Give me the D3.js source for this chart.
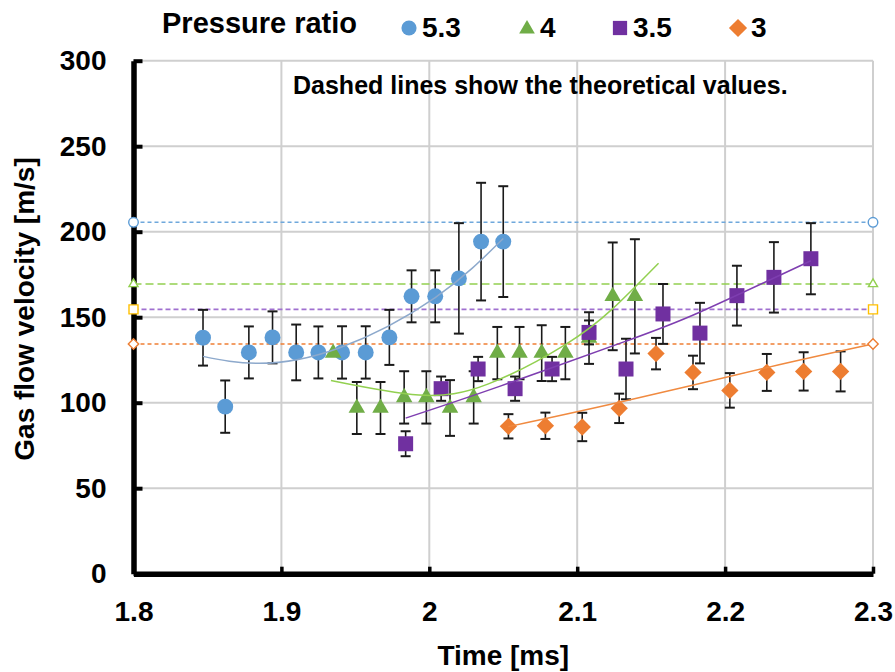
<!DOCTYPE html>
<html>
<head>
<meta charset="utf-8">
<script src="https://cdn.jsdelivr.net/npm/d3@7"></script>
<style>
  html, body { margin: 0; padding: 0; background: #fff; }
  svg { display: block; font-family: "Liberation Sans", Arial, sans-serif; }
</style>
</head>
<body>
<svg id="chart" width="895" height="672"></svg>
<script>
// Axis ticks
const xTicks = [1.8, 1.9, 2.0, 2.1, 2.2, 2.3];
const yTicks = [0, 50, 100, 150, 200, 250, 300];

// Pressure ratio 5.3
const time53 = [1.847, 1.862, 1.878, 1.894, 1.910, 1.925, 1.941, 1.957, 1.973, 1.988, 2.004, 2.020, 2.035, 2.050];
const vel53  = [138.0, 97.7, 129.4, 138.2, 129.4, 129.4, 129.4, 129.4, 138.2, 162.2, 162.2, 172.7, 194.2, 194.2];
const err53  = [16.3, 15.3, 15.2, 15.2, 16.3, 15.2, 15.3, 15.3, 16.1, 15.2, 15.2, 32.3, 34.4, 32.4];

// Pressure ratio 4
const time4 = [1.935, 1.951, 1.967, 1.983, 1.998, 2.014, 2.030, 2.046, 2.061, 2.076, 2.092, 2.108, 2.124, 2.139];
const vel4  = [129.0, 96.9, 96.9, 103.1, 103.1, 96.9, 103.1, 129.0, 129.0, 129.0, 129.0, 137.8, 162.2, 162.2];
const err4  = [0, 15.2, 15.2, 15.3, 15.3, 16.3, 15.3, 15.3, 15.3, 16.3, 15.3, 15.1, 31.5, 33.4];

// Pressure ratio 3.5
const time35 = [1.984, 2.008, 2.033, 2.058, 2.083, 2.108, 2.133, 2.158, 2.183, 2.208, 2.233, 2.258];
const vel35  = [76.0, 108.2, 119.7, 108.2, 119.7, 141.1, 119.7, 151.9, 140.7, 162.6, 173.3, 184.2];
const err35  = [7.3, 7.1, 7.1, 7.1, 7.1, 7.0, 17.7, 17.5, 17.7, 17.5, 20.6, 20.8];

// Pressure ratio 3
const time3 = [2.0535, 2.0785, 2.1034, 2.1284, 2.1533, 2.1783, 2.2032, 2.2282, 2.2531, 2.2781];
const vel3  = [86.2, 86.5, 85.8, 96.7, 128.7, 117.7, 107.2, 117.7, 118.3, 118.3];
const err3  = [7.1, 7.7, 8.3, 8.6, 9.2, 9.8, 10.1, 10.8, 11.2, 11.7];

// Trend curves (time, velocity)
const trendTime53 = [1.847, 1.885, 1.939, 2.004, 2.050];
const trendVel53  = [127.1, 123.0, 132.0, 161.5, 196.0];
const trendTime4  = [1.9335, 1.993, 2.040, 2.092, 2.124, 2.155];
const trendVel4   = [113.0, 104.5, 111.0, 134.0, 155.0, 181.6];
const trendTime35 = [1.984, 2.047, 2.133, 2.182, 2.258];
const trendVel35  = [91.0, 109.4, 136.0, 152.6, 183.0];
const trendTime3  = [2.0535, 2.130, 2.2282, 2.300];
const trendVel3   = [86.0, 100.5, 120.5, 134.3];

// Theoretical velocities
const ratioLabels = ["5.3", "4", "3.5", "3"];
const theoryVel = [205.5, 169.4, 154.6, 134.3];

const svg = d3.select("#chart");
svg.append("rect").attr("width", 895).attr("height", 672).attr("fill", "#fff");

const x = d3.scaleLinear().domain([1.8, 2.3]).range([133.5, 873]);
const y = d3.scaleLinear().domain([0, 300]).range([573.7, 60.7]);

const series = [
  { name: ratioLabels[0], t: time53, v: vel53, e: err53, tt: trendTime53, tv: trendVel53,
    color: "#5B9BD5", trend: "#8DA9CC", dash: "#6FA8DC", dashArr: "4,3", endColor: "#5B9BD5", shape: "circle" },
  { name: ratioLabels[1], t: time4, v: vel4, e: err4, tt: trendTime4, tv: trendVel4,
    color: "#70AD47", trend: "#92D050", dash: "#92D050", dashArr: "8,4", endColor: "#92D050", shape: "triangle" },
  { name: ratioLabels[2], t: time35, v: vel35, e: err35, tt: trendTime35, tv: trendVel35,
    color: "#7030A0", trend: "#7E3EB0", dash: "#A070D0", dashArr: "5,3", endColor: "#FFC000", shape: "square" },
  { name: ratioLabels[3], t: time3, v: vel3, e: err3, tt: trendTime3, tv: trendVel3,
    color: "#ED7D31", trend: "#F08A40", dash: "#F07F35", dashArr: "4,3", endColor: "#ED7D31", shape: "diamond" }
];

function symbolPath(shape, scale) {
  const s = scale || 1;
  if (shape === "circle") return d3.symbol(d3.symbolCircle, 200 * s * s)();
  if (shape === "triangle") return d3.symbol(d3.symbolTriangle, 118 * s * s)();
  if (shape === "square") return d3.symbol(d3.symbolSquare, 225 * s * s)();
  return d3.symbol(d3.symbolSquare, 150 * s * s)();
}
function symbolRotate(shape) { return shape === "diamond" ? " rotate(45)" : ""; }

// Grid
const grid = svg.append("g");
grid.selectAll("line.h").data(yTicks.filter(d => d > 0)).join("line")
  .attr("x1", x(1.8)).attr("x2", x(2.3))
  .attr("y1", d => y(d)).attr("y2", d => y(d))
  .attr("stroke", "#CFCFCF").attr("stroke-width", 2);
grid.selectAll("line.v").data(xTicks.filter(d => d > 1.8)).join("line")
  .attr("x1", d => x(d)).attr("x2", d => x(d))
  .attr("y1", y(0)).attr("y2", y(300))
  .attr("stroke", "#CFCFCF").attr("stroke-width", 2);

// Theoretical values (dashed)
const theory = svg.append("g");
series.forEach((s, i) => {
  theory.append("line")
    .attr("x1", x(1.8)).attr("x2", x(2.3))
    .attr("y1", y(theoryVel[i])).attr("y2", y(theoryVel[i]))
    .attr("stroke", s.dash).attr("stroke-width", 1.6)
    .attr("stroke-dasharray", s.dashArr);
});

// Measured series: error bars and markers
series.forEach(s => {
  const g = svg.append("g");
  const pts = s.t.map((t, i) => ({ t, v: s.v[i], e: s.e[i] }));
  const bars = g.selectAll("g.bar").data(pts.filter(d => d.e > 0)).join("g");
  bars.append("line")
    .attr("x1", d => x(d.t)).attr("x2", d => x(d.t))
    .attr("y1", d => y(d.v + d.e)).attr("y2", d => y(d.v - d.e))
    .attr("stroke", "#1a1a1a").attr("stroke-width", 1.6);
  [1, -1].forEach(sign => {
    bars.append("line")
      .attr("x1", d => x(d.t) - 5).attr("x2", d => x(d.t) + 5)
      .attr("y1", d => y(d.v + sign * d.e)).attr("y2", d => y(d.v + sign * d.e))
      .attr("stroke", "#1a1a1a").attr("stroke-width", 2);
  });
  g.selectAll("path.m").data(pts).join("path")
    .attr("d", symbolPath(s.shape))
    .attr("transform", d => `translate(${x(d.t)},${y(d.v)})${symbolRotate(s.shape)}`)
    .attr("fill", s.color);
});

// Trend curves
const trendLine = d3.line().x(d => x(d[0])).y(d => y(d[1])).curve(d3.curveNatural);
series.forEach(s => {
  svg.append("path")
    .attr("d", trendLine(s.tt.map((t, i) => [t, s.tv[i]])))
    .attr("fill", "none").attr("stroke", s.trend).attr("stroke-width", 1.5);
});

// Axes
const fontTick = "bold 28px 'Liberation Sans', Arial, sans-serif";
const yAxis = svg.append("g").attr("transform", `translate(${x(1.8)},0)`)
  .call(d3.axisLeft(y).tickValues(yTicks).tickSizeInner(-9).tickSizeOuter(0).tickPadding(27));
yAxis.select(".domain").attr("stroke", "#000").attr("stroke-width", 5.5);
yAxis.selectAll(".tick line").attr("stroke", "#000").attr("stroke-width", 4);
yAxis.selectAll(".tick text").style("font", fontTick).attr("fill", "#000");

const xAxis = svg.append("g").attr("transform", `translate(0,${y(0)})`)
  .call(d3.axisBottom(x).tickValues(xTicks).tickFormat(d3.format("")).tickSizeInner(-7).tickSizeOuter(0).tickPadding(27));
xAxis.select(".domain").attr("stroke", "#000").attr("stroke-width", 5.5);
xAxis.selectAll(".tick line").attr("stroke", "#000").attr("stroke-width", 3.5);
xAxis.selectAll(".tick text").style("font", fontTick).attr("fill", "#000");

// Theoretical end markers
series.forEach((s, i) => {
  [1.8, 2.3].forEach(t => {
    svg.append("path")
      .attr("d", symbolPath(s.shape, s.shape === "triangle" ? 0.55 : 0.6))
      .attr("transform", `translate(${x(t)},${y(theoryVel[i])})${symbolRotate(s.shape)}`)
      .attr("fill", "#fff").attr("stroke", s.endColor).attr("stroke-width", 1.4);
  });
});

// Axis titles
svg.append("text")
  .attr("x", (x(1.8) + x(2.3)) / 2).attr("y", 665)
  .attr("text-anchor", "middle").style("font", "bold 28px 'Liberation Sans', Arial, sans-serif")
  .text("Time [ms]");
svg.append("text")
  .attr("transform", "translate(34,309) rotate(-90)")
  .attr("text-anchor", "middle").style("font", "bold 28px 'Liberation Sans', Arial, sans-serif")
  .text("Gas flow velocity [m/s]");

// Note
svg.append("text")
  .attr("x", 293).attr("y", 93.5)
  .style("font", "bold 25px 'Liberation Sans', Arial, sans-serif")
  .text("Dashed lines show the theoretical values.");

// Legend
const legend = svg.append("g");
legend.append("text").attr("x", 162).attr("y", 33)
  .style("font", "bold 29px 'Liberation Sans', Arial, sans-serif")
  .text("Pressure ratio");
const legendX = [409, 527, 620, 738];
series.forEach((s, i) => {
  legend.append("path")
    .attr("d", symbolPath(s.shape, s.shape === "diamond" ? 1.05 : 0.95))
    .attr("transform", `translate(${legendX[i]},${s.shape === "triangle" ? 29 : 28})${symbolRotate(s.shape)}`)
    .attr("fill", s.color);
  legend.append("text").attr("x", legendX[i] + 13).attr("y", 37)
    .style("font", "bold 28px 'Liberation Sans', Arial, sans-serif")
    .text(s.name);
});
</script>
</body>
</html>
